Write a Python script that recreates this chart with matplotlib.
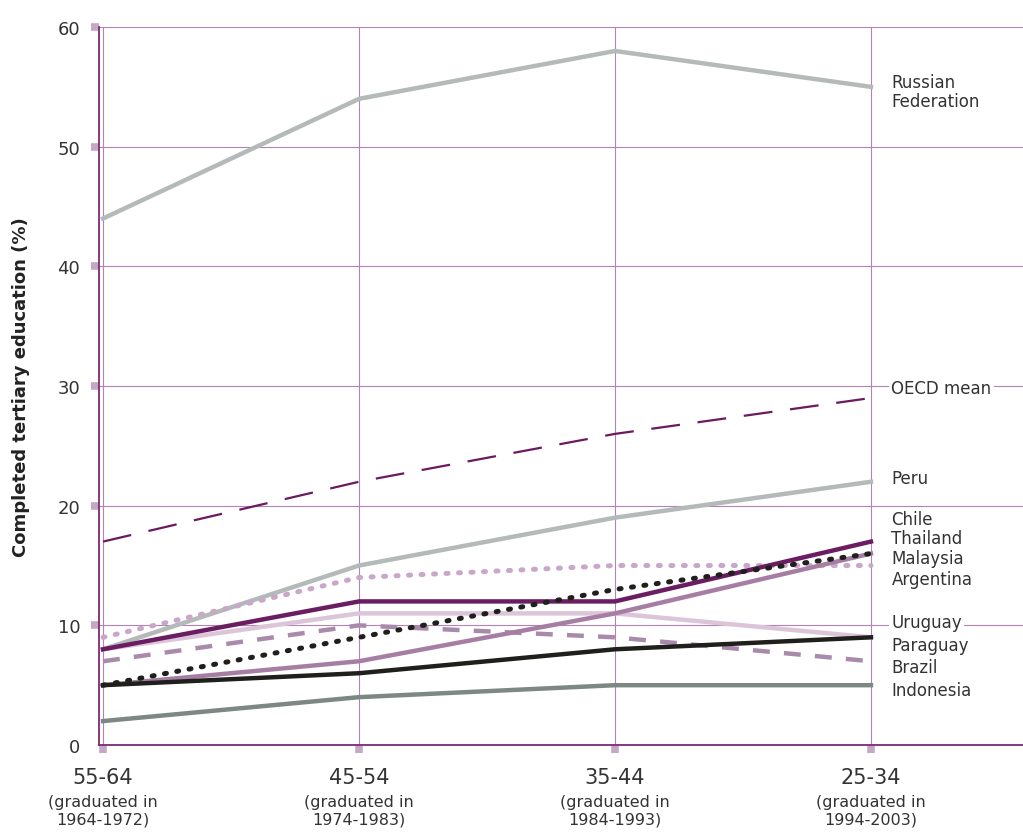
import numpy as np
import matplotlib
matplotlib.use("Agg")
import matplotlib.pyplot as plt

plt.rcParams['font.family'] = ['DejaVu Sans']

# data
ages = ["55-64", "45-54", "35-44", "25-34"]
graduated = ["(graduated in\n1964-1972)", "(graduated in\n1974-1983)",
             "(graduated in\n1984-1993)", "(graduated in\n1994-2003)"]

russia = [44, 54, 58, 55]
oecd = [17, 22, 26, 29]
peru = [8, 15, 19, 22]
chile = [8, 12, 12, 17]
thailand = [5, 9, 13, 16]
malaysia = [9, 14, 15, 15]
argentina = [5, 7, 11, 16]
uruguay = [8, 11, 11, 9]
paraguay = [5, 6, 8, 9]
brazil = [7, 10, 9, 7]
indonesia = [2, 4, 5, 5]

# label name, label y position
labels = [("Russian\nFederation", 54.6), ("OECD mean", 29.8), ("Peru", 22.3),
          ("Chile", 18.9), ("Thailand", 17.3), ("Malaysia", 15.6),
          ("Argentina", 13.9), ("Uruguay", 10.3), ("Paraguay", 8.4),
          ("Brazil", 6.5), ("Indonesia", 4.6)]

grid_c = '#b583b1'
spine_c = '#7b2b73'
tick_c = '#c6a7c4'

fig = plt.figure(figsize=(10.23, 8.37), dpi=100)
ax = fig.add_axes([0.0968, 0.1087, 0.9032, 0.8578])

x = np.arange(len(ages))
lw = 3.2
dots = (0, (0.4, 2.1))

ax.plot(x, russia, color='#b4b9ba', lw=lw)
ax.plot(x, oecd, color='#6b1a5f', lw=1.6, dashes=(13, 8))
ax.plot(x, peru, color='#b4b9ba', lw=lw)
ax.plot(x, indonesia, color='#7d8785', lw=lw)
ax.plot(x, uruguay, color='#dcc5d9', lw=lw)
ax.plot(x, brazil, color='#a98aab', lw=lw, dashes=(3.8, 3.2))
ax.plot(x, malaysia, color='#c9a7c8', lw=3.6, linestyle=dots,
        dash_capstyle='round')
ax.plot(x, argentina, color='#a67ea4', lw=lw)
ax.plot(x, paraguay, color='#1f201c', lw=lw)
ax.plot(x, chile, color='#6b1d62', lw=lw)
ax.plot(x, thailand, color='#1f201c', lw=3.6, linestyle=dots,
        dash_capstyle='round')

ax.set_xlim(-0.0156, 3.594)
ax.set_ylim(0, 60)

ax.set_yticks(range(0, 61, 10))
ax.set_xticks(x)
ax.set_xticklabels(ages, fontsize=15)

for s in ['top', 'right']:
    ax.spines[s].set_visible(False)
for s in ['left', 'bottom']:
    ax.spines[s].set_color(spine_c)
    ax.spines[s].set_linewidth(1.3)

ax.tick_params(axis='y', length=5.5, width=5.5, color=tick_c, pad=8,
               labelsize=13, labelcolor='#333333')
ax.tick_params(axis='x', length=5.5, width=5.5, color=tick_c, pad=10,
               labelcolor='#333333')
ax.yaxis.get_major_ticks()[0].tick1line.set_visible(False)

ax.set_axisbelow(True)
ax.grid(True, color=grid_c, lw=0.8, zorder=0)

for i, g in enumerate(graduated):
    ax.annotate(g, xy=(i, 0), xycoords=('data', 'axes fraction'),
                xytext=(0, -35), textcoords='offset points',
                ha='center', va='top', fontsize=11.5, color='#333333',
                linespacing=1.25)

for name, yy in labels:
    ax.text(3.08, yy, name, fontsize=12, color='#333333', va='center',
            ha='left', linespacing=1.1,
            bbox=dict(facecolor='white', edgecolor='none', pad=1.5))

ax.set_ylabel("Completed tertiary education (%)", fontsize=13,
              fontweight='bold', color='#222222', labelpad=20)

fig.savefig("out.png", dpi=100)
